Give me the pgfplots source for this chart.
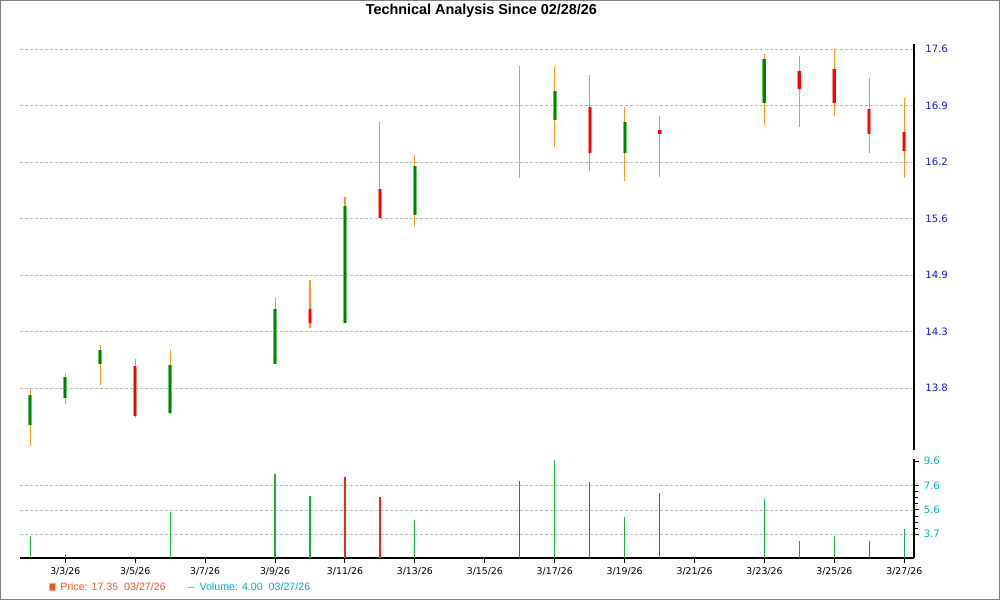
\documentclass[border=0pt]{standalone}
\usepackage{fontspec}
\setmainfont{Liberation Sans}
\newfontfamily\tickfont{DejaVu Sans}
\usepackage{pgfplots}
\usepackage{pgfplotstable}
\pgfplotsset{compat=1.18}

\definecolor{wick}{RGB}{243,152,40}
\definecolor{upbody}{RGB}{0,128,0}
\definecolor{upedge}{RGB}{110,195,110}
\definecolor{dnbody}{RGB}{255,0,0}
\definecolor{dnedge}{RGB}{255,140,140}
\definecolor{volup}{RGB}{30,170,60}
\definecolor{voldn}{RGB}{235,40,30}
\definecolor{pricelbl}{RGB}{25,25,200}
\definecolor{vollbl}{RGB}{0,175,195}
\definecolor{gridc}{RGB}{185,185,185}
\definecolor{framec}{RGB}{130,130,130}
\definecolor{legprice}{RGB}{240,85,40}

% day of March 2026, open high low close
\pgfplotstableread{
day open high low close
2  13.44 13.79 13.24 13.73
3  13.70 13.95 13.65 13.91
4  14.04 14.23 13.83 14.18
6  13.56 14.18 13.55 14.03
9  14.04 14.72 14.04 14.61
11 14.46 15.83 14.46 15.73
13 15.63 16.31 15.50 16.18
17 16.73 17.39 16.41 17.08
19 16.33 16.88 16.01 16.70
23 16.93 17.54 16.67 17.47
}\upcandles

\pgfplotstableread{
day open high low close
5  14.02 14.09 13.51 13.53
10 14.61 14.91 14.41 14.46
12 15.92 16.70 15.59 15.59
16 16.18 17.39 16.04 16.18
18 16.88 17.27 16.13 16.33
20 16.61 16.77 16.06 16.56
24 17.32 17.51 16.64 17.10
25 17.35 17.60 16.78 16.93
26 16.86 17.24 16.34 16.56
27 16.58 16.99 16.05 16.36
}\downcandles

\pgfplotsset{
  chartbase/.style={
    scale only axis, anchor=south west,
    width=670.5pt, xmin=1.704, xmax=27.277,
    axis line style={line width=1.5pt, black},
    ymajorgrids,
    grid style={gridc, line width=0.6pt, dash pattern=on 2.25pt off 1.5pt},
  },
  wicks/.style={draw=none, forget plot,
    error bars/.cd, y dir=plus, y explicit, error mark=none,
    error bar style={draw=wick, line width=0.8pt}},
  body/.style 2 args={draw=none, forget plot,
    error bars/.cd, y dir=plus, y explicit, error mark=none,
    error bar style={draw=#1, line width=#2}},
}

\begin{document}
\begin{tikzpicture}
\useasboundingbox (0,0) rectangle (750pt,450pt);
\draw[framec, line width=0.75pt] (0.375pt,0.375pt) rectangle (749.625pt,449.625pt);

% price panel
\begin{axis}[chartbase,
  at={(15pt,112.5pt)}, height=304.275pt,
  ymode=log, ymin=13.203, ymax=17.659,
  axis x line=none, axis y line*=right,
  xtick=\empty,
  ytick={13.8,14.371,14.966,15.585,16.229,16.901,17.6},
  yticklabels={13.8,14.3,14.9,15.6,16.2,16.9,17.6},
  major tick length=0pt,
  yticklabel style={font=\tickfont\fontsize{7.6}{9}\selectfont, text=pricelbl, xshift=5pt},
]
\addplot [wicks] table [x=day, y=low, y error plus expr=\thisrow{high}-\thisrow{low}] {\upcandles};
\addplot [wicks] table [x=day, y=low, y error plus expr=\thisrow{high}-\thisrow{low}] {\downcandles};
\addplot [body={upedge}{3pt}] table [x=day, y=open, y error plus expr=\thisrow{close}-\thisrow{open}] {\upcandles};
\addplot [body={upbody}{1.7pt}] table [x=day, y=open, y error plus expr=\thisrow{close}-\thisrow{open}] {\upcandles};
\addplot [body={dnedge}{3pt}] table [x=day, y=close, y error plus expr=\thisrow{open}-\thisrow{close}] {\downcandles};
\addplot [body={dnbody}{1.7pt}] table [x=day, y=close, y error plus expr=\thisrow{open}-\thisrow{close}] {\downcandles};
\end{axis}

% volume panel
\begin{axis}[chartbase,
  at={(15pt,31.725pt)}, height=73.8pt,
  ymin=1.797, ymax=9.758,
  axis x line*=bottom, axis y line*=right,
  xtick={3,5,...,27},
  xticklabels={3/3/26,3/5/26,3/7/26,3/9/26,3/11/26,3/13/26,3/15/26,3/17/26,3/19/26,3/21/26,3/23/26,3/25/26,3/27/26},
  ytick={3.69,5.66,7.63}, yticklabels={3.7,5.6,7.6},
  extra y ticks={9.6}, extra y tick labels={9.6},
  extra y tick style={grid=none},
  minor y tick num=3,
  tick align=outside,
  major tick length=3.8pt, minor tick length=3pt,
  tick style={black, line width=0.75pt},
  xticklabel style={font=\tickfont\fontsize{7}{8}\selectfont, text=black},
  yticklabel style={font=\tickfont\fontsize{7.6}{9}\selectfont, text=vollbl},
]
\addplot [ycomb, volup, line width=0.9pt] coordinates {
  (2,3.55) (6,5.49) (9,8.57) (10,6.79) (13,4.85) (17,9.70) (19,5.09)
  (23,6.55) (24,3.17) (25,3.55) (27,4.12)
};
\addplot [ycomb, voldn, line width=0.9pt] coordinates {
  (3,2.10) (11,8.33) (12,6.71) (16,8.00) (18,7.92) (20,7.03) (26,3.17)
};
\end{axis}

\node[font=\bfseries\fontsize{10.8}{13}\selectfont] at (361pt,442pt) {Technical Analysis Since 02/28/26};
\node[anchor=west, font=\fontsize{8}{10}\selectfont, text=legprice, inner sep=0pt] at (36.5pt,10pt)
  {\tikz\fill[legprice, draw=legprice!50] (0,0) rectangle (4.2pt,5pt);\hspace{4pt}Price: 17.35~~03/27/26};
\node[anchor=west, font=\fontsize{8}{10}\selectfont, text=vollbl, inner sep=0pt] at (141pt,10pt)
  {--\hspace{4pt}Volume: 4.00~~03/27/26};
\end{tikzpicture}
\end{document}
